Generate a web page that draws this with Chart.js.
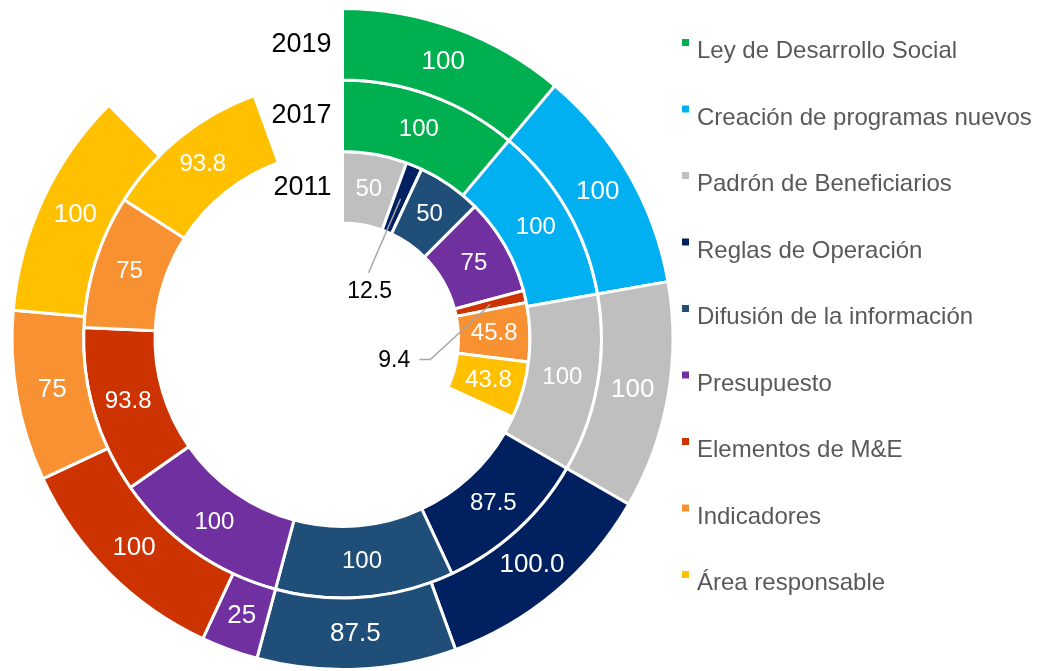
<!DOCTYPE html>
<html lang="es">
<head>
<meta charset="utf-8">
<title>Elementos de monitoreo y evaluación</title>
<script src="https://cdn.jsdelivr.net/npm/chart.js@4.4.1/dist/chart.umd.min.js"></script>
<style>
  html, body { margin: 0; padding: 0; background: #fff; }
  #grafica { display: block; }
</style>
</head>
<body>
<canvas id="grafica" width="1041" height="671"></canvas>
<script>
/* ── Datos ── */
const categorias = [
    'Ley de Desarrollo Social',
    'Creación de programas nuevos',
    'Padrón de Beneficiarios',
    'Reglas de Operación',
    'Difusión de la información',
    'Presupuesto',
    'Elementos de M&E',
    'Indicadores',
    'Área responsable'
];
const colores = ['#00B050', '#00B0F0', '#BFBFBF', '#002060', '#1F4E79',
                 '#7030A0', '#CC3300', '#F89132', '#FFC000'];
const anios = ['2019', '2017', '2011'];

const valores2019 = [100, 100, 100, 100, 87.5, 25, 100, 75, 100];
const valores2017 = [100, 100, 100, 87.5, 100, 100, 93.8, 75, 93.8];
const valores2011 = [0, 0, 50, 12.5, 50, 75, 9.4, 45.8, 43.8];
const textos2019  = ['100', '100', '100', '100.0', '87.5', '25', '100', '75', '100'];

// 9 categorías x 100 = una vuelta completa
const TOTAL = 900;
const FUENTE = "'Liberation Sans', Arial, sans-serif";

/* ── Construye un anillo: valores + resto transparente ── */
function anillo(anio, valores) {
    const suma = valores.reduce((a, b) => a + b, 0);
    return {
        label: anio,
        data: valores.concat([TOTAL - suma]),
        backgroundColor: colores.concat(['rgba(0,0,0,0)']),
        borderColor: '#ffffff',
        borderWidth: valores.map(v => (v > 0 ? 3 : 0)).concat([0]),
        hoverBorderWidth: 3,
        borderJoinStyle: 'miter',
        hoverOffset: 0
    };
}

/* ── Etiquetas de datos y de años ── */
const etiquetasPlugin = {
    id: 'etiquetas',
    afterDatasetsDraw(chart) {
        const ctx = chart.ctx;
        ctx.save();
        chart.data.datasets.forEach((ds, di) => {
            const meta = chart.getDatasetMeta(di);
            const textos = di === 0 ? textos2019 : null;
            const talla = di === 0 ? 26 : 24;

            meta.data.forEach((arc, i) => {
                if (i >= categorias.length) return;
                const v = ds.data[i];
                if (!v) return;
                const p = arc.getCenterPoint();
                const texto = textos ? textos[i] : String(v);

                if (v >= 15) {
                    ctx.fillStyle = '#ffffff';
                    ctx.font = talla + 'px ' + FUENTE;
                    ctx.textAlign = 'center';
                    ctx.textBaseline = 'middle';
                    ctx.fillText(texto, p.x, p.y);
                    return;
                }

                // Valores pequeños: etiqueta fuera con línea guía
                ctx.strokeStyle = '#A6A6A6';
                ctx.lineWidth = 1.5;
                ctx.fillStyle = '#000000';
                ctx.font = '23px ' + FUENTE;
                ctx.textBaseline = 'middle';
                ctx.beginPath();
                ctx.moveTo(p.x, p.y);
                if (i === 3) {
                    ctx.lineTo(p.x - 32, p.y + 74);
                    ctx.stroke();
                    ctx.textAlign = 'center';
                    ctx.fillText(texto, p.x - 31, p.y + 93);
                } else {
                    ctx.lineTo(p.x - 60, p.y + 55);
                    ctx.lineTo(p.x - 71, p.y + 55);
                    ctx.stroke();
                    ctx.textAlign = 'right';
                    ctx.fillText(texto, p.x - 80, p.y + 56);
                }
            });

            // Año a la izquierda del inicio de cada anillo
            const a0 = meta.data[0];
            const rMedio = (a0.innerRadius + a0.outerRadius) / 2;
            ctx.fillStyle = '#000000';
            ctx.font = '27px ' + FUENTE;
            ctx.textAlign = 'right';
            ctx.textBaseline = 'middle';
            ctx.fillText(anios[di], a0.x - 11, a0.y - rMedio);
        });
        ctx.restore();
    }
};

/* ── Leyenda a la derecha ── */
const leyendaPlugin = {
    id: 'leyendaDerecha',
    afterDraw(chart) {
        const ctx = chart.ctx;
        ctx.save();
        ctx.font = '24px ' + FUENTE;
        ctx.textAlign = 'left';
        ctx.textBaseline = 'alphabetic';
        categorias.forEach((cat, i) => {
            const base = 58 + i * 66.5;
            ctx.fillStyle = colores[i];
            ctx.fillRect(682, base - 19, 7, 7);
            ctx.fillStyle = '#595959';
            ctx.fillText(cat, 697, base);
        });
        ctx.restore();
    }
};

new Chart(document.getElementById('grafica'), {
    type: 'doughnut',
    data: {
        labels: categorias.concat(['']),
        datasets: [
            anillo('2019', valores2019),
            anillo('2017', valores2017),
            anillo('2011', valores2011)
        ]
    },
    options: {
        responsive: false,
        animation: false,
        events: [],
        cutout: '35.1%',
        layout: { padding: { left: 10, right: 366, top: 7, bottom: 0 } },
        plugins: {
            legend: { display: false },
            tooltip: { enabled: false }
        }
    },
    plugins: [etiquetasPlugin, leyendaPlugin]
});
</script>
</body>
</html>
